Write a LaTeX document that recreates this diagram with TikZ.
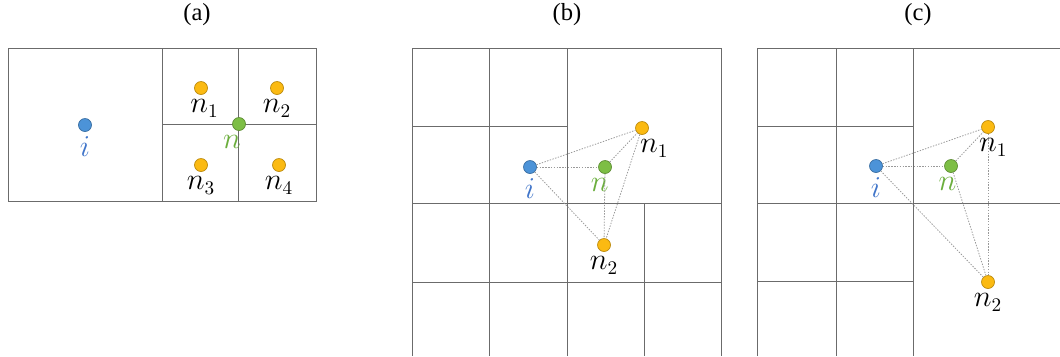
\documentclass[tikz,border=0pt]{standalone}
\usepackage{amsmath}
\usepackage{fontspec}
\setmainfont{Liberation Serif}
\usepackage{tikz}
\usetikzlibrary{positioning}
\definecolor{dotblue}{HTML}{4C93D8}
\definecolor{dotgreen}{HTML}{7DBE45}
\definecolor{dotgold}{HTML}{FBBA12}
\definecolor{labblue}{HTML}{3F74C9}
\definecolor{labgreen}{HTML}{6BAE3D}

\begin{document}
\begin{tikzpicture}[
  x=0.02cm, y=-0.02cm,
  font=\fontsize{14}{16}\selectfont,
  cell/.style={draw=black!58, line width=0.55pt},
  dot/.style={circle, draw, minimum size=0.26cm, inner sep=0pt},
  bdot/.style={dot, fill=dotblue, draw=dotblue!75!black},
  gdot/.style={dot, fill=dotgreen, draw=dotgreen!75!black},
  odot/.style={dot, fill=dotgold, draw=dotgold!75!black},
  lnk/.style={gray!80, line width=0.45pt, dash pattern=on 0.8pt off 0.8pt},
  every label/.style={inner sep=1pt, font=\fontsize{16}{18}\selectfont},
  label distance=1.5pt
]
\useasboundingbox (0,0) rectangle (1060,356);

% titles
\node (ta) at (197,15) {(a)};
\node (tb) at (567,15) {(b)};
\node (tc) at (918,15) {(c)};

% (a)
\draw[cell] (8,48) rectangle (316,201);
\draw[cell] (162,48) -- (162,201) (238,48) -- (238,201) (162,124) -- (316,124);
\node[bdot, label={[text=labblue]below:$i$}] (ia) at (85,125) {};
\node[gdot, label={[text=labgreen, xshift=-4pt]below:$n$}] (na) at (239,124) {};
\node[odot, label={[xshift=2pt]below:$n_1$}] (n1a) at (201,88) {};
\node[odot, label={below:$n_2$}] (n2a) at (277,88) {};
\node[odot, label={below:$n_3$}] (n3a) at (201,165) {};
\node[odot, label={below:$n_4$}] (n4a) at (279,165) {};

% (b)
\draw[cell] (412,48) -- (721,48) (412,48) -- (412,356) (721,48) -- (721,356);
\draw[cell] (489,48) -- (489,356) (567,48) -- (567,356) (644,203) -- (644,356);
\draw[cell] (412,126) -- (567,126) (412,203) -- (721,203) (412,282) -- (721,282);
\node[bdot, label={[text=labblue]below:$i$}] (ib) at (530,167) {};
\node[gdot, label={[text=labgreen, xshift=-3pt]below:$n$}] (nb) at (605,167) {};
\node[odot, label={[xshift=7pt]below:$n_1$}] (n1b) at (642,128) {};
\node[odot, label={below:$n_2$}] (n2b) at (604,245) {};
\foreach \a/\b in {ib/nb, ib/n1b, ib/n2b, nb/n1b, nb/n2b, n1b/n2b}
  \draw[lnk] (\a) -- (\b);

% (c)
\draw[cell] (757,48) -- (1060,48) (757,48) -- (757,356);
\draw[cell] (836,48) -- (836,356) (913,48) -- (913,356);
\draw[cell] (757,126) -- (913,126) (757,203) -- (1060,203) (757,281) -- (913,281);
\node[bdot, label={[text=labblue]below:$i$}] (ic) at (876,166) {};
\node[gdot, label={[text=labgreen, xshift=-2pt]below:$n$}] (nc) at (951,166) {};
\node[odot, label={[xshift=3pt]below:$n_1$}] (n1c) at (988,127) {};
\node[odot, label={below:$n_2$}] (n2c) at (988,282) {};
\foreach \a/\b in {ic/nc, ic/n1c, ic/n2c, nc/n1c, nc/n2c, n1c/n2c}
  \draw[lnk] (\a) -- (\b);
\end{tikzpicture}
\end{document}
